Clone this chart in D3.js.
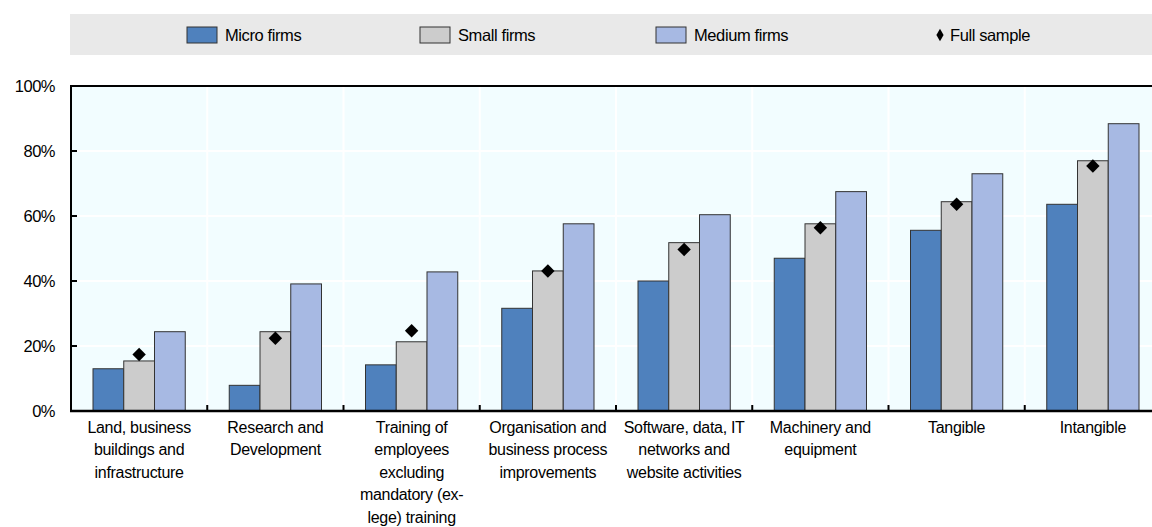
<!DOCTYPE html>
<html><head><meta charset="utf-8">
<script src="https://cdn.jsdelivr.net/npm/d3@7"></script>
<style>
body{margin:0;background:#fff;}
svg{display:block;font-family:"Liberation Sans",Arial,sans-serif;}
</style></head><body>
<svg id="chart" width="1152" height="527"></svg>
<script>
const categories = [
  ["Land, business","buildings and","infrastructure"],
  ["Research and","Development"],
  ["Training of","employees","excluding","mandatory (ex-","lege) training"],
  ["Organisation and","business process","improvements"],
  ["Software, data, IT","networks and","website activities"],
  ["Machinery and","equipment"],
  ["Tangible"],
  ["Intangible"]
];
const seriesNames = ["Micro firms","Small firms","Medium firms"];
const micro  = [13.0, 7.9, 14.2, 31.6, 40.0, 47.0, 55.6, 63.6];
const small  = [15.4, 24.4, 21.3, 43.1, 51.8, 57.6, 64.4, 77.0];
const medium = [24.4, 39.1, 42.8, 57.6, 60.4, 67.5, 73.0, 88.4];
const full   = [17.4, 22.4, 24.7, 43.1, 49.7, 56.4, 63.6, 75.4];
const yTicks = [0, 20, 40, 60, 80, 100];
const colors = ["#4f81bd","#cccccc","#a7b9e3"];

(function(){
const svg = d3.select("#chart");
const pL = 71, pR = 1161, pT = 86, pB = 411;
const idx = d3.range(categories.length);
const x0 = d3.scaleBand().domain(idx).range([pL, pR]).paddingInner(0).paddingOuter(0);
const x1 = d3.scaleBand().domain([0,1,2]).range([22, x0.bandwidth()-22]);
const y = d3.scaleLinear().domain([0,100]).range([pB, pT]);

// legend band
svg.append("rect").attr("x",70).attr("y",14).attr("width",1082).attr("height",41).attr("fill","#e9e9e9");
const legX = [187, 420, 656];
seriesNames.forEach((n,i)=>{
  svg.append("rect").attr("x",legX[i]).attr("y",27).attr("width",30).attr("height",16)
    .attr("fill",colors[i]).attr("stroke","#333").attr("stroke-width",1);
  svg.append("text").attr("x",legX[i]+38).attr("y",41).attr("font-size",16.5)
    .attr("letter-spacing","-0.4").attr("fill","#000").text(n);
});
svg.append("path").attr("d",d3.symbol(d3.symbolDiamond, 45)())
  .attr("transform","translate(940,35)").attr("fill","#000");
svg.append("text").attr("x",950).attr("y",41).attr("font-size",16.5).attr("letter-spacing","-0.4").text("Full sample");

// plot bg
svg.append("rect").attr("x",pL).attr("y",pT).attr("width",1152-pL).attr("height",pB-pT).attr("fill","#f2fdff");
// grid
svg.append("g").selectAll("line").data(yTicks.slice(1,5)).join("line")
  .attr("x1",pL).attr("x2",1152).attr("y1",d=>y(d)).attr("y2",d=>y(d)).attr("stroke","#fff").attr("stroke-width",2);
svg.append("g").selectAll("line").data(idx.slice(1)).join("line")
  .attr("x1",d=>x0(d)).attr("x2",d=>x0(d)).attr("y1",pT).attr("y2",pB).attr("stroke","#fff").attr("stroke-width",2);

// bars
const data = [micro, small, medium];
idx.forEach(c=>{
  data.forEach((s,i)=>{
    svg.append("rect").attr("x",x0(c)+x1(i)).attr("y",y(s[c])).attr("width",x1.bandwidth())
      .attr("height",y(0)-y(s[c])).attr("fill",colors[i]).attr("stroke","#333").attr("stroke-width",1);
  });
});
// diamonds
svg.append("g").selectAll("path").data(idx).join("path")
  .attr("d",d3.symbol(d3.symbolSquare,90)())
  .attr("transform",d=>`translate(${x0(d)+x1(1)+x1.bandwidth()/2},${y(full[d])}) rotate(45)`)
  .attr("fill","#000");

// axes lines
svg.append("line").attr("x1",pL).attr("x2",1152).attr("y1",pT).attr("y2",pT).attr("stroke","#000").attr("stroke-width",2);
svg.append("line").attr("x1",pL).attr("x2",pL).attr("y1",pT-1).attr("y2",pB+1).attr("stroke","#000").attr("stroke-width",2);
svg.append("line").attr("x1",pL-1).attr("x2",1152).attr("y1",pB).attr("y2",pB).attr("stroke","#000").attr("stroke-width",2.5);

// y ticks
const yAxis = svg.append("g");
yAxis.selectAll("line").data(yTicks.slice(1,5)).join("line")
  .attr("x1",pL).attr("x2",pL+6).attr("y1",d=>y(d)).attr("y2",d=>y(d)).attr("stroke","#000").attr("stroke-width",2);
yAxis.selectAll("text").data(yTicks).join("text")
  .attr("x",55).attr("y",d=>y(d)+6).attr("text-anchor","end").attr("font-size",16.5)
  .attr("letter-spacing","-0.5")
  .text(d=>d+"%");
// x ticks
svg.append("g").selectAll("line").data(idx.slice(1)).join("line")
  .attr("x1",d=>x0(d)).attr("x2",d=>x0(d)).attr("y1",pB).attr("y2",pB-6).attr("stroke","#000").attr("stroke-width",2);

// category labels
idx.forEach(c=>{
  const t = svg.append("text").attr("text-anchor","middle").attr("font-size",16).attr("letter-spacing","-0.3").attr("fill","#000");
  categories[c].forEach((line,k)=>{
    t.append("tspan").attr("x",x0(c)+x0.bandwidth()/2).attr("y",433+k*22.4).text(line);
  });
});
})();
</script></body></html>
